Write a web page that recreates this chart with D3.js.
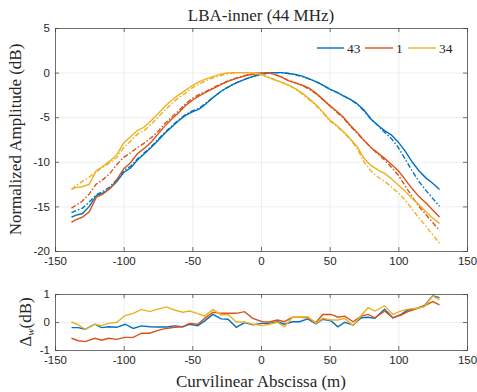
<!DOCTYPE html>
<html>
<head>
<meta charset="utf-8">
<script src="https://cdn.jsdelivr.net/npm/d3@7"></script>
<style>
  body { margin: 0; background: #fff; }
</style>
</head>
<body>
<div id="chart"></div>
<script>
// ---- data ----
const seriesNames = ['43', '1', '34']
const seriesColors = ['#0072BD', '#D95319', '#EDB120']

const topX = [-138, -135, -130, -125, -120, -115, -110, -105, -100, -95, -90, -85, -80, -75, -70, -65, -60, -55, -50, -45, -40, -35, -30, -25, -20, -15, -10, -5, 0, 5, 10, 15, 20, 25, 30, 35, 40, 45, 50, 55, 60, 65, 70, 75, 80, 85, 90, 95, 100, 105, 110, 115, 120, 125, 130]

// measured (solid)
const meas43 = [-16.2, -16.0, -15.8, -15.0, -13.8, -13.5, -13.0, -12.2, -11.2, -10.7, -9.8, -9.1, -8.4, -7.6, -6.8, -6.1, -5.4, -4.8, -4.4, -4.1, -3.5, -2.8, -2.2, -1.7, -1.3, -0.95, -0.65, -0.4, -0.2, -0.05, 0, 0, -0.1, -0.2, -0.4, -0.7, -1.0, -1.4, -1.85, -2.2, -2.6, -3.0, -3.5, -4.2, -5.2, -5.9, -6.5, -7.0, -7.8, -8.8, -10.0, -11.0, -11.8, -12.4, -13.1]
const meas1 = [-16.8, -16.5, -16.2, -15.6, -14.0, -13.6, -13.0, -12.0, -10.8, -10.1, -9.1, -8.5, -7.8, -6.9, -6.0, -5.2, -4.5, -3.7, -3.1, -2.6, -2.2, -1.8, -1.4, -1.05, -0.75, -0.5, -0.3, -0.15, -0.05, 0, -0.2, -0.5, -0.9, -1.15, -1.4, -1.75, -2.3, -3.0, -3.7, -4.3, -5.0, -5.9, -6.7, -7.6, -8.4, -9.0, -9.6, -10.3, -11.0, -12.0, -13.0, -13.9, -14.6, -15.4, -16.2]
const meas34 = [-13.1, -12.9, -12.8, -12.5, -11.0, -10.5, -9.9, -9.2, -7.9, -7.2, -6.5, -6.1, -5.4, -4.6, -3.8, -3.1, -2.5, -2.0, -1.45, -1.05, -0.7, -0.45, -0.2, -0.05, 0, 0, 0, -0.05, -0.2, -0.5, -0.8, -1.1, -1.4, -1.8, -2.3, -2.9, -3.6, -4.4, -5.3, -5.9, -6.6, -7.4, -8.3, -9.6, -10.4, -10.9, -11.3, -11.9, -12.6, -13.3, -14.1, -14.8, -15.6, -16.3, -16.9]

// model (dash-dot)
const model43 = [-15.7, -15.5, -15.2, -14.5, -13.7, -13.3, -12.8, -12.0, -11.0, -10.5, -9.7, -9.0, -8.3, -7.5, -6.7, -6.0, -5.3, -4.7, -4.3, -4.0, -3.4, -2.8, -2.2, -1.7, -1.3, -0.95, -0.65, -0.4, -0.2, -0.05, 0, 0, -0.1, -0.25, -0.45, -0.7, -1.0, -1.4, -1.85, -2.2, -2.6, -3.0, -3.5, -4.3, -5.2, -5.9, -6.7, -7.4, -8.4, -9.7, -11.0, -12.2, -13.2, -14.1, -15.0]
const model1 = [-15.2, -14.9, -14.4, -13.6, -12.5, -12.0, -11.3, -10.3, -9.5, -9.0, -8.4, -7.9, -7.3, -6.6, -5.7, -5.0, -4.3, -3.5, -2.9, -2.45, -2.1, -1.7, -1.35, -1.0, -0.7, -0.45, -0.25, -0.1, 0, 0, -0.2, -0.5, -0.9, -1.15, -1.45, -1.85, -2.35, -3.0, -3.7, -4.4, -5.1, -6.0, -6.8, -7.6, -8.4, -9.1, -9.8, -10.6, -11.5, -12.7, -13.9, -15.0, -15.9, -16.8, -17.7]
const model34 = [-13.1, -12.7, -12.2, -11.7, -11.1, -10.6, -10.1, -9.5, -8.4, -7.7, -6.9, -6.5, -5.8, -5.0, -4.2, -3.5, -2.8, -2.3, -1.7, -1.3, -0.9, -0.6, -0.35, -0.15, -0.05, 0, 0, -0.05, -0.2, -0.5, -0.8, -1.1, -1.4, -1.85, -2.4, -3.0, -3.7, -4.5, -5.4, -6.0, -6.7, -7.5, -8.5, -10.0, -11.0, -11.7, -12.2, -12.8, -13.5, -14.3, -15.3, -16.3, -17.2, -18.2, -19.1]

const deltaX = [-138, -133, -128, -121, -116, -111, -105, -99, -93, -87, -81, -75, -69, -63, -57, -52, -46, -41, -35, -29, -24, -18, -12, -6, 1, 6, 12, 17, 23, 28, 34, 40, 45, 51, 56, 61, 67, 73, 78, 83, 90, 96, 102, 107, 114, 119, 125, 130]
const delta43 = [-0.2, -0.2, -0.26, -0.08, -0.2, -0.17, -0.19, -0.08, -0.23, -0.14, -0.17, -0.18, -0.18, -0.14, -0.17, -0.08, -0.13, 0.04, 0.27, 0.11, 0.1, -0.19, -0.02, -0.1, -0.05, -0.05, 0.01, -0.08, 0.01, 0.01, 0.11, -0.07, 0.1, 0.04, -0.17, -0.01, -0.11, 0.15, 0.17, 0.13, 0.46, 0.15, 0.27, 0.43, 0.49, 0.58, 0.94, 0.87]
const delta1 = [-0.58, -0.67, -0.7, -0.58, -0.65, -0.58, -0.62, -0.55, -0.55, -0.4, -0.4, -0.3, -0.23, -0.19, -0.17, -0.05, -0.08, 0.13, 0.35, 0.31, 0.31, 0.31, 0.37, 0.13, 0.01, 0, 0.07, 0.01, 0.17, 0.17, 0.15, -0.02, 0.27, 0.27, 0.17, 0.21, 0.01, 0.21, 0.27, 0.15, 0.39, 0.15, 0.25, 0.37, 0.49, 0.58, 0.73, 0.61]
const delta34 = [0, -0.1, -0.26, -0.08, -0.13, -0.05, -0.01, 0.23, 0.31, 0.45, 0.37, 0.46, 0.54, 0.43, 0.35, 0.39, 0.3, 0.21, 0.45, 0.25, 0.27, 0, 0, -0.08, -0.13, -0.08, -0.01, -0.17, 0.17, 0.17, 0.19, -0.05, 0.13, 0.07, 0.07, 0.13, -0.13, 0.23, 0.51, 0.39, 0.58, 0.27, 0.4, 0.46, 0.49, 0.55, 0.93, 0.79]

const xTicks = [-150, -100, -50, 0, 50, 100, 150]
const yTicksTop = [5, 0, -5, -10, -15, -20]
const yTicksBottom = [1, 0, -1]

// ---- layout ----
const width = 477
const height = 392
const left = 55
const right = 467
const topPanel = { top: 28, bottom: 251 }
const botPanel = { top: 294, bottom: 350 }
const sans = '"Liberation Sans"'
const serif = '"Liberation Serif"'

const svg = d3.select('#chart')
  .append('svg')
  .attr('width', width)
  .attr('height', height)

const xScale = d3.scaleLinear().domain([-150, 150]).range([left, right])
const yTop = d3.scaleLinear().domain([-20, 5]).range([topPanel.bottom, topPanel.top])
const yBot = d3.scaleLinear().domain([-1, 1]).range([botPanel.bottom, botPanel.top])

const drawFrame = (yScale, yTicks, panel) => {
  const g = svg.append('g')
  const h = panel.bottom - panel.top

  // grid
  g.append('g')
    .attr('transform', `translate(0,${panel.bottom})`)
    .call(d3.axisBottom(xScale).tickValues(xTicks).tickSize(-h).tickFormat(''))
    .call((s) => s.select('.domain').remove())
    .selectAll('line').attr('stroke', '#e3e3e3').attr('stroke-width', 0.6)
  g.append('g')
    .attr('transform', `translate(${left},0)`)
    .call(d3.axisLeft(yScale).tickValues(yTicks).tickSize(-(right - left)).tickFormat(''))
    .call((s) => s.select('.domain').remove())
    .selectAll('line').attr('stroke', '#e3e3e3').attr('stroke-width', 0.6)

  // axes with inward ticks
  const fmt = (d) => String(d)
  const xb = g.append('g')
    .attr('transform', `translate(0,${panel.bottom})`)
    .call(d3.axisBottom(xScale).tickValues(xTicks).tickSize(-4).tickPadding(6).tickFormat(fmt))
  const xt = g.append('g')
    .attr('transform', `translate(0,${panel.top})`)
    .call(d3.axisTop(xScale).tickValues(xTicks).tickSize(-4).tickFormat(''))
  const yl = g.append('g')
    .attr('transform', `translate(${left},0)`)
    .call(d3.axisLeft(yScale).tickValues(yTicks).tickSize(-4).tickPadding(5).tickFormat(fmt))
  const yr = g.append('g')
    .attr('transform', `translate(${right},0)`)
    .call(d3.axisRight(yScale).tickValues(yTicks).tickSize(-4).tickFormat(''))

  ;[xb, xt, yl, yr].forEach((a) => {
    a.select('.domain').attr('stroke', '#4d4d4d').attr('stroke-width', 0.8)
    a.selectAll('line').attr('stroke', '#4d4d4d').attr('stroke-width', 0.8)
    a.selectAll('text')
      .style('font-size', '11.5px')
      .style('font-family', sans)
      .style('fill', '#262626')
  })
}

drawFrame(yTop, yTicksTop, topPanel)
drawFrame(yBot, yTicksBottom, botPanel)

// ---- top curves ----
const topLine = d3.line()
  .x((d, i) => xScale(topX[i]))
  .y((d) => yTop(d))

const measured = [meas43, meas1, meas34]
const model = [model43, model1, model34]

svg.append('clipPath').attr('id', 'clipTop')
  .append('rect').attr('x', left).attr('y', topPanel.top)
  .attr('width', right - left).attr('height', topPanel.bottom - topPanel.top)

const curves = svg.append('g').attr('clip-path', 'url(#clipTop)')
seriesNames.forEach((name, k) => {
  curves.append('path')
    .attr('d', topLine(model[k]))
    .attr('fill', 'none')
    .attr('stroke', seriesColors[k])
    .attr('stroke-width', 1.4)
    .attr('stroke-dasharray', '5,2,1.5,2')
  curves.append('path')
    .attr('d', topLine(measured[k]))
    .attr('fill', 'none')
    .attr('stroke', seriesColors[k])
    .attr('stroke-width', 1.4)
})

// ---- bottom curves ----
const botLine = d3.line()
  .x((d, i) => xScale(deltaX[i]))
  .y((d) => yBot(d))

const deltas = [delta43, delta1, delta34]
seriesNames.forEach((name, k) => {
  svg.append('path')
    .attr('d', botLine(deltas[k]))
    .attr('fill', 'none')
    .attr('stroke', seriesColors[k])
    .attr('stroke-width', 1.4)
})

// ---- legend ----
const legend = svg.append('g').attr('transform', 'translate(317,48)')
const legendItems = [
  { x: 0, lx: 27 },
  { x: 48, lx: 28 },
  { x: 91, lx: 28 }
]
seriesNames.forEach((name, k) => {
  const it = legendItems[k]
  legend.append('line')
    .attr('x1', it.x).attr('x2', it.x + it.lx)
    .attr('y1', 0).attr('y2', 0)
    .attr('stroke', seriesColors[k]).attr('stroke-width', 1.4)
  legend.append('text')
    .attr('x', it.x + it.lx + 3).attr('y', 4.5)
    .style('font-family', serif)
    .style('font-size', '13.5px')
    .style('fill', '#262626')
    .text(name)
})

// ---- labels ----
const label = (sel, size) => sel
  .attr('text-anchor', 'middle')
  .style('font-family', serif)
  .style('font-size', size)
  .style('fill', '#262626')

svg.append('text')
  .attr('x', (left + right) / 2).attr('y', 21)
  .call(label, '17px')
  .text('LBA-inner (44 MHz)')

svg.append('text')
  .attr('transform', `translate(21,${(topPanel.top + topPanel.bottom) / 2}) rotate(-90)`)
  .call(label, '17px')
  .text('Normalized Amplitude (dB)')

const dl = svg.append('text')
  .attr('transform', `translate(31,${(botPanel.top + botPanel.bottom) / 2}) rotate(-90)`)
  .call(label, '17px')
dl.append('tspan').text('\u0394')
dl.append('tspan').style('font-size', '11px').style('font-style', 'italic').attr('dy', 3).text('w')
dl.append('tspan').attr('dy', -3).text('(dB)')

svg.append('text')
  .attr('x', (left + right) / 2).attr('y', 387)
  .call(label, '17px')
  .text('Curvilinear Abscissa (m)')
</script>
</body>
</html>
